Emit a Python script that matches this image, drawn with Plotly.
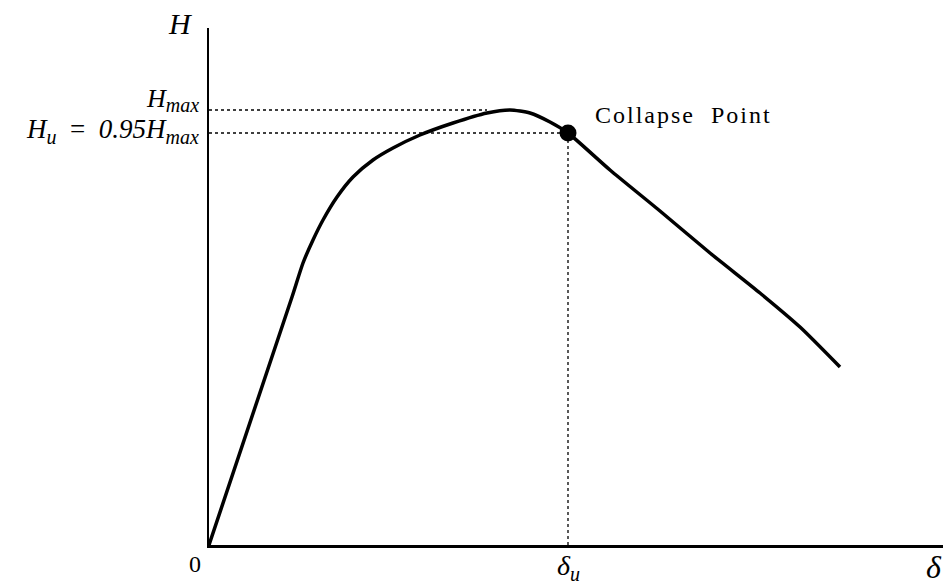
import plotly.graph_objects as go

# Curve (arbitrary units: delta, H)
delta = [0, 83, 94, 104, 114, 128, 144, 164, 184, 211, 244, 278, 301, 321, 341, 359,
         401, 451, 501, 551, 591, 631]
H = [0, 248, 282, 305, 325, 348, 368, 385, 397, 410, 422, 432, 435, 432, 423, 412,
     375, 334, 292, 252, 218, 178]

H_max = 435
H_u = 412
delta_u = 359
delta_hmax_meet = 278

x_range = [0, 737]
y_range = [0, 517]

serif = "Liberation Serif"

fig = go.Figure()

dot = dict(color="black", width=1.3, dash="dot")
fig.add_trace(go.Scatter(x=[0, delta_hmax_meet], y=[H_max, H_max], mode="lines", line=dot, hoverinfo="skip"))
fig.add_trace(go.Scatter(x=[0, delta_u], y=[H_u, H_u], mode="lines", line=dot, hoverinfo="skip"))
fig.add_trace(go.Scatter(x=[delta_u, delta_u], y=[0, H_u], mode="lines", line=dot, hoverinfo="skip"))

fig.add_trace(go.Scatter(x=delta, y=H, mode="lines",
                         line=dict(color="black", width=3.5, shape="spline", smoothing=0.6),
                         hoverinfo="skip"))

fig.add_trace(go.Scatter(x=[delta_u], y=[H_u], mode="markers",
                         marker=dict(color="black", size=17), hoverinfo="skip"))

# page body has an 8px margin: figure sized so the plot area lands where the reference has it
fig.update_layout(
    width=943, height=576,
    margin=dict(l=201, r=5, t=20, b=39),
    paper_bgcolor="white", plot_bgcolor="white",
    showlegend=False,
    xaxis=dict(range=x_range, showgrid=False, zeroline=False, showticklabels=False,
               showline=True, linecolor="black", linewidth=2.5, ticks=""),
    yaxis=dict(range=y_range, showgrid=False, zeroline=False, showticklabels=False,
               showline=True, linecolor="black", linewidth=2, ticks=""),
)

sub = '<sub><span style="font-size:{}px">{}</span></sub>'
ann = [
    dict(x=0, y=517, text="<i>H</i>", xanchor="right", yanchor="bottom", xshift=-14, yshift=-14,
         font=dict(size=30)),
    dict(x=0, y=H_max, text="<i>H" + sub.format(20, "max") + "</i>", xanchor="right", yanchor="middle",
         xshift=-8, yshift=10, font=dict(size=26)),
    dict(x=0, y=H_u, text="<i>H" + sub.format(20, "u") + "</i>  =  <i>0.95H" + sub.format(20, "max") + "</i>",
         xanchor="right", yanchor="middle", xshift=-8, yshift=2, font=dict(size=27)),
    dict(x=delta_u, y=H_u, text='<span style="letter-spacing:2px">Collapse  Point</span>',
         xanchor="left", yanchor="middle", xshift=25, yshift=18, font=dict(size=24)),
    dict(x=0, y=0, text="0", xanchor="center", yanchor="top", xshift=-14, yshift=-4, font=dict(size=24)),
    dict(x=delta_u, y=0, text="<i>δ" + sub.format(20, "u") + "</i>", xanchor="center", yanchor="top",
         xshift=0, yshift=-3, font=dict(size=28)),
    dict(x=737, y=0, text="<i>δ</i>", xanchor="right", yanchor="top", xshift=-2, yshift=-2, font=dict(size=32)),
]
for a in ann:
    a.update(xref="x", yref="y", showarrow=False)
    a["font"].update(family=serif, color="black")
    fig.add_annotation(**a)

fig.write_html("out.html")
